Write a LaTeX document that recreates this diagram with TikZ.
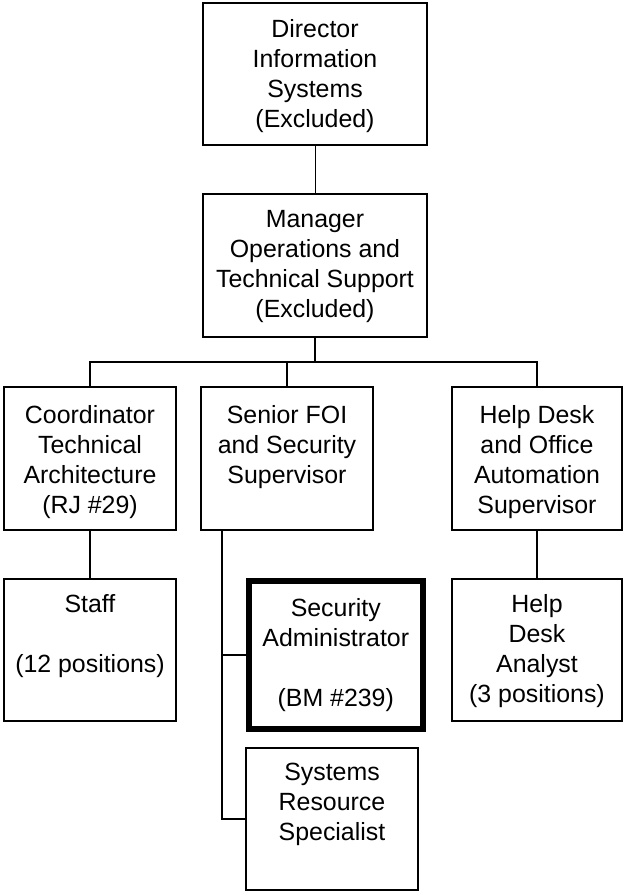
\documentclass[tikz,border=0pt]{standalone}
\usepackage{fontspec}
\setmainfont{Liberation Sans}
\begin{document}
\begin{tikzpicture}[x=1pt,y=-1pt,
  box/.style={draw, line width=1.8pt, inner sep=0pt},
  thickbox/.style={draw, line width=5.5pt, inner sep=0pt},
  lbl/.style={anchor=north, inner sep=0pt, align=center, font=\fontsize{24.9}{30}\selectfont},
  conn/.style={line width=2pt},
  thinconn/.style={line width=1pt}]
\useasboundingbox[fill=white] (0,0) rectangle (624,892);
% boxes
\node[box, minimum width=224pt, minimum height=142pt] (dir) at (315,74) {};
\node[box, minimum width=224pt, minimum height=143pt] (mgr) at (315,265.5) {};
\node[box, minimum width=172pt, minimum height=143pt] (coord) at (90,458.5) {};
\node[box, minimum width=172pt, minimum height=143pt] (sen) at (287,458.5) {};
\node[box, minimum width=170pt, minimum height=143pt] (hd) at (537,458.5) {};
\node[box, minimum width=172pt, minimum height=142pt] (staff) at (90,650) {};
\node[thickbox, minimum width=174pt, minimum height=148pt] (sa) at (335.75,654.75) {};
\node[box, minimum width=172pt, minimum height=142pt] (sr) at (332,819) {};
\node[box, minimum width=170pt, minimum height=142pt] (hda) at (537,650) {};
% texts
\node[lbl] (dirt) at (315,19.5) {Director\\Information\\Systems\\(Excluded)};
\node[lbl] (mgrt) at (315,210.5) {Manager\\Operations and\\Technical Support\\(Excluded)};
\node[lbl] (coordt) at (90,405.5) {Coordinator\\Technical\\Architecture\\(RJ \#29)};
\node[lbl] (sent) at (287,405.5) {Senior FOI\\and Security\\Supervisor};
\node[lbl] (hdt) at (537,405.5) {Help Desk\\and Office\\Automation\\Supervisor};
\node[lbl] (stafft) at (90,594.5) {Staff\\\mbox{}\\(12 positions)};
\node[lbl] (sat) at (335.75,598.2) {Security\\Administrator\\\mbox{}\\(BM \#239)};
\node[lbl] (srt) at (332,763.2) {Systems\\Resource\\Specialist};
\node[lbl] (hdat) at (537,594.5) {Help\\Desk\\Analyst\\(3 positions)};
% connectors
\coordinate (bar) at (315,362);
\coordinate (spine) at (222,0);
\draw[thinconn] (dir.south) -- (mgr.north);
\draw[conn] (mgr.south) -- (bar);
\draw[conn] (coord.north) |- (bar) -| (hd.north);
\draw[conn] (sen.north) -- (sen.north |- bar);
\draw[conn] (coord.south) -- (staff.north);
\draw[conn] (hd.south) -- (hda.north);
\draw[conn] (sen.south -| spine) |- (sa.west);
\draw[conn] (sen.south -| spine) |- (sr.west);
\end{tikzpicture}
\end{document}
